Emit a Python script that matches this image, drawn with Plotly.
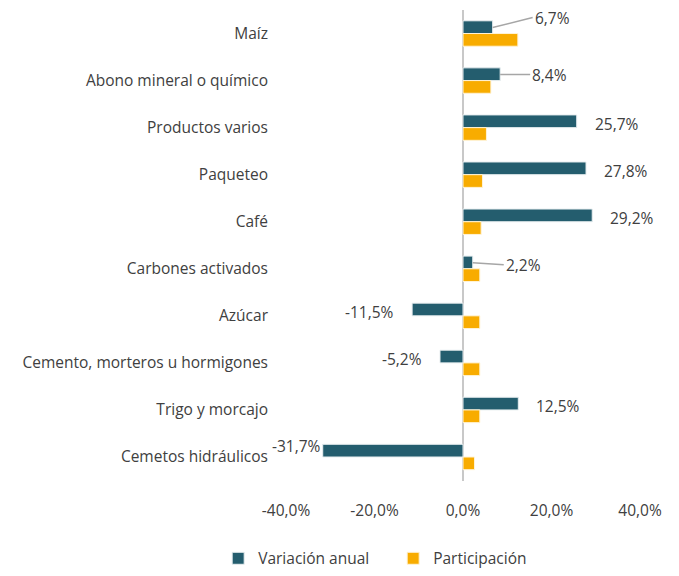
import plotly.graph_objects as go

categories = ["Maíz", "Abono mineral o químico", "Productos varios", "Paqueteo", "Café",
              "Carbones activados", "Azúcar", "Cemento, morteros u hormigones",
              "Trigo y morcajo", "Cemetos hidráulicos"]
variacion = [6.7, 8.4, 25.7, 27.8, 29.2, 2.2, -11.5, -5.2, 12.5, -31.7]
participacion = [12.4, 6.3, 5.3, 4.4, 4.1, 3.8, 3.8, 3.8, 3.8, 2.6]
tick_vals = [-40, -20, 0, 20, 40]
tick_text = ["-40,0%", "-20,0%", "0,0%", "20,0%", "40,0%"]

TEAL = "#245D6E"
ORANGE = "#F8AC00"
TXT = "#404040"
FONT = "Open Sans"
FS = 15.5

fig = go.Figure()
fig.add_trace(go.Bar(y=categories, x=variacion, orientation="h", name="Variación anual",
                     marker=dict(color=TEAL, line=dict(color="#E8EEF0", width=1))))
fig.add_trace(go.Bar(y=categories, x=participacion, orientation="h", name="Participación",
                     marker=dict(color=ORANGE, line=dict(color="#FFF3D6", width=1))))

# label placement: (pixel offset from bar end, extra vertical shift, leader line?)
label_style = {
    "Maíz": (40, 10, True),
    "Abono mineral o químico": (30, 0, True),
    "Carbones activados": (31, -2, True),
    "Cemetos hidráulicos": (0, 5, False),
}
half_bar_px = 6
for cat, v in zip(categories, variacion):
    txt = f"{v:.1f}%".replace(".", ",")
    off, dy, leader = label_style.get(cat, (16, -2, False))
    if leader:
        fig.add_annotation(x=v, y=cat, text=txt, showarrow=True, arrowhead=0,
                           arrowwidth=1.5, arrowcolor="#A6A6A6", axref="pixel", ayref="pixel",
                           ax=off, ay=-dy, xanchor="left", yanchor="middle", yshift=half_bar_px,
                           standoff=0, startstandoff=0,
                           font=dict(family=FONT, size=FS, color=TXT))
    else:
        fig.add_annotation(x=v, y=cat, text=txt, showarrow=False,
                           xanchor="left" if v >= 0 else "right",
                           xshift=off if v >= 0 else -off, yshift=half_bar_px + dy,
                           font=dict(family=FONT, size=FS, color=TXT))

fig.update_layout(
    width=663, height=560,
    margin=dict(l=278, r=31, t=2, b=87, autoexpand=False),
    paper_bgcolor="white", plot_bgcolor="white",
    barmode="group", bargap=0.46, bargroupgap=0,
    font=dict(family=FONT, size=FS, color=TXT),
    showlegend=True,
    legend=dict(orientation="h", xref="container", yref="paper", x=0.317, y=-0.165,
                xanchor="left", yanchor="middle", entrywidth=130,
                font=dict(family=FONT, size=FS, color=TXT), traceorder="normal"),
    xaxis=dict(range=[-40, 40], tickvals=tick_vals, ticktext=tick_text,
               showgrid=False, zeroline=True, zerolinecolor="#C8C8C8", zerolinewidth=2,
               showline=False, ticks="outside", ticklen=5, tickcolor="rgba(0,0,0,0)",
               ticklabelstandoff=10, fixedrange=True),
    yaxis=dict(autorange="reversed", showgrid=False, showline=False, ticks="",
               ticklabelstandoff=17),
)

fig.write_html("out.html")
